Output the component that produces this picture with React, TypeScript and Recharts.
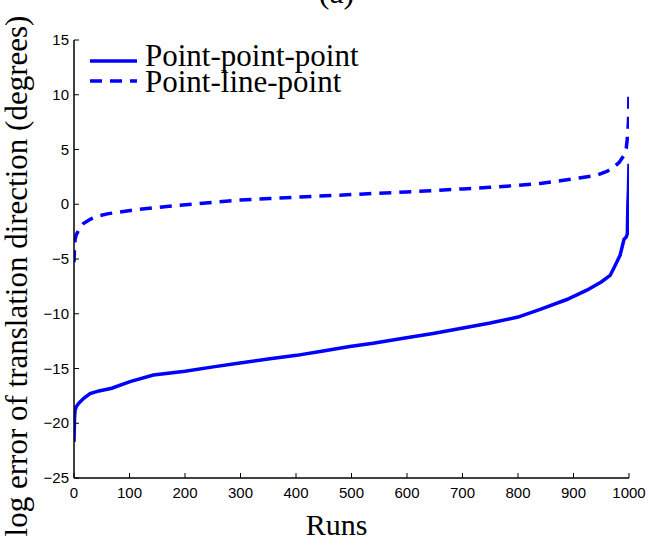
import React from 'react';
import { LineChart, Line, XAxis, YAxis, Legend } from 'recharts';

const solidRuns = [0, 1, 2, 4, 8, 17, 29, 45, 68, 101, 143, 200, 251, 299, 353, 401, 449, 497, 539, 599, 647, 701, 750, 800, 840, 888, 924, 950, 966, 975, 984, 991, 995, 997, 998, 999, 1000];
const solidErr = [-21.7, -19.5, -18.8, -18.5, -18.2, -17.75, -17.3, -17.05, -16.8, -16.2, -15.6, -15.25, -14.85, -14.5, -14.1, -13.8, -13.4, -13.0, -12.7, -12.2, -11.8, -11.3, -10.85, -10.3, -9.6, -8.7, -7.85, -7.1, -6.5, -5.6, -4.65, -3.2, -3.0, -2.7, 0, 1.3, 3.7];

const dashedRuns = [0, 1, 2, 4, 8, 17, 30, 41, 60, 83, 113, 150, 191, 257, 300, 353, 400, 473, 530, 599, 650, 700, 750, 800, 840, 876, 910, 942, 960, 972, 982, 990, 995, 997, 999, 1000];
const dashedErr = [-5.3, -3.9, -3.2, -2.8, -2.4, -1.76, -1.35, -1.1, -0.88, -0.7, -0.49, -0.3, -0.09, 0.21, 0.38, 0.52, 0.65, 0.82, 0.96, 1.12, 1.25, 1.4, 1.55, 1.72, 1.9, 2.15, 2.4, 2.65, 3.0, 3.35, 3.8, 4.4, 5.1, 6.0, 7.5, 10.25];

const xTicks = [0, 100, 200, 300, 400, 500, 600, 700, 800, 900, 1000];
const yTicks = [-25, -20, -15, -10, -5, 0, 5, 10, 15];
const seriesNames = ['Point-point-point', 'Point-line-point'];
const titleText = '(a)';
const xLabel = 'Runs';
const yLabel = 'log error of translation direction (degrees)';

const solidData = solidRuns.map((x, i) => ({ x, y: solidErr[i] }));
const dashedData = dashedRuns.map((x, i) => ({ x, y: dashedErr[i] }));

const fmt = (v: number) => String(v).replace('-', '\u2212');
const serif = '"Liberation Serif", "Times New Roman", serif';
const sans = '"Liberation Sans", Arial, sans-serif';
const BLUE = '#0000ff';
const TICK = 5;

const BottomTick = (p: any) => (
  <g>
    <line x1={p.x} x2={p.x} y1={p.y} y2={p.y - TICK} stroke="#000" strokeWidth={1} />
    <text x={p.x} y={p.y + 20} textAnchor="middle" fontFamily={sans} fontSize={15} fill="#000">{p.payload.value}</text>
  </g>
);
const TopTick = (p: any) => (
  <line x1={p.x} x2={p.x} y1={p.y} y2={p.y + TICK} stroke="#000" strokeWidth={1} />
);
const LeftTick = (p: any) => (
  <g>
    <line x1={p.x} x2={p.x + TICK} y1={p.y} y2={p.y} stroke="#000" strokeWidth={1} />
    <text x={p.x - 5} y={p.y + 5} textAnchor="end" fontFamily={sans} fontSize={15} fill="#000">{fmt(p.payload.value)}</text>
  </g>
);
const RightTick = (p: any) => (
  <line x1={p.x} x2={p.x - TICK} y1={p.y} y2={p.y} stroke="#000" strokeWidth={1} />
);

const renderLegend = (props: any) => {
  const payload = [...(props.payload || [])].sort(
    (a: any, b: any) => seriesNames.indexOf(a.value) - seriesNames.indexOf(b.value)
  );
  return (
    <svg width={649} height={110} style={{ display: 'block' }}>
      {payload.map((entry: any, i: number) => {
        const dash = entry?.payload?.strokeDasharray;
        const ly = i === 0 ? 61 : 81;
        const ty = i === 0 ? 66 : 92;
        return (
          <g key={i}>
            <line x1={90} x2={137} y1={ly} y2={ly} stroke={entry.color} strokeWidth={3.5} strokeDasharray={dash} />
            <text x={145} y={ty} fontFamily={serif} fontSize={31} fill="#000">{entry.value}</text>
          </g>
        );
      })}
    </svg>
  );
};

export default function App() {
  return (
    <div style={{ position: 'absolute', left: 0, top: 0, width: 649, height: 548, background: '#fff' }}>
      <LineChart width={649} height={548} margin={{ top: 40, right: 20, bottom: 40, left: 0 }}>
        <XAxis
          xAxisId="b"
          type="number"
          dataKey="x"
          domain={[0, 1000]}
          ticks={xTicks}
          orientation="bottom"
          height={30}
          tickSize={0}
          tickMargin={0}
          tickLine={false}
          tick={<BottomTick />}
          stroke="#000"
          strokeWidth={1.5}
          allowDataOverflow
          label={(p: any) => {
            const vb = p.viewBox;
            const cx = vb.x + vb.width / 2 - 15;
            return (
              <g>
                <text x={cx} y={535} textAnchor="middle" fontFamily={serif} fontSize={30} fill="#000">{xLabel}</text>
                <text x={cx} y={3} textAnchor="middle" fontFamily={serif} fontSize={32} fill="#000">{titleText}</text>
              </g>
            );
          }}
        />
        <XAxis
          xAxisId="t"
          type="number"
          dataKey="x"
          domain={[0, 1000]}
          ticks={xTicks}
          orientation="top"
          height={0}
          tickSize={0}
          tickMargin={0}
          tickLine={false}
          tick={<TopTick />}
          stroke="#000"
          strokeWidth={1.5}
          allowDataOverflow
        />
        <YAxis
          yAxisId="l"
          type="number"
          domain={[-25, 15]}
          ticks={yTicks}
          orientation="left"
          width={74}
          tickSize={0}
          tickMargin={0}
          tickLine={false}
          tick={<LeftTick />}
          stroke="#000"
          strokeWidth={1.5}
          allowDataOverflow
          label={(p: any) => {
            const cy = 276;
            const cx = 27;
            return (
              <text x={cx} y={cy} transform={`rotate(-90, ${cx}, ${cy})`} textAnchor="middle" fontFamily={serif} fontSize={31} fill="#000">{yLabel}</text>
            );
          }}
        />
        <YAxis
          yAxisId="r"
          type="number"
          domain={[-25, 15]}
          ticks={yTicks}
          orientation="right"
          width={0}
          tickSize={0}
          tickMargin={0}
          tickLine={false}
          tick={<RightTick />}
          stroke="#000"
          strokeWidth={1.5}
          allowDataOverflow
        />
        <Legend
          content={renderLegend}
          layout="horizontal"
          verticalAlign="middle"
          align="center"
          wrapperStyle={{ position: 'absolute', left: 0, top: 0, width: 649, height: 110 }}
        />
        <Line
          xAxisId="b"
          yAxisId="l"
          data={solidData}
          dataKey="y"
          name={seriesNames[0]}
          type="linear"
          stroke={BLUE}
          strokeWidth={3.5}
          dot={false}
          isAnimationActive={false}
        />
        <Line
          xAxisId="t"
          yAxisId="r"
          data={dashedData}
          dataKey="y"
          name={seriesNames[1]}
          type="linear"
          stroke={BLUE}
          strokeWidth={3.5}
          strokeDasharray="12 8"
          dot={false}
          isAnimationActive={false}
        />
      </LineChart>
    </div>
  );
}
